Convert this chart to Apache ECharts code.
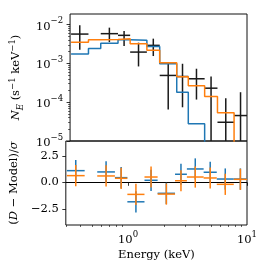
<!DOCTYPE html>
<html>
<head>
<meta charset="utf-8">
<script src="https://cdn.jsdelivr.net/npm/echarts@6/dist/echarts.min.js"></script>
<style>
html,body{margin:0;padding:0;background:#fff;}
#c{width:265px;height:273px;}
</style>
</head>
<body>
<div id="c"></div>
<script>
// ---- data ----
// model bin edges (keV)
const binEdges = [0.306, 0.432, 0.551, 0.776, 0.987, 1.375, 1.773, 2.484, 3.124, 4.32, 5.57, 7.74, 10.0];
// model 1 (blue) and model 2 (orange), counts s^-1 keV^-1 per bin (values below 1e-5 are off-axis)
const modelBlue   = [1.76e-3, 2.44e-3, 3.29e-3, 4.05e-3, 3.93e-3, 2.75e-3, 9.8e-4, 1.81e-4, 2.77e-5, 3e-6, 1e-6, 3e-7];
const modelOrange = [3.49e-3, 4.09e-3, 4.15e-3, 4.3e-3, 3.22e-3, 2.17e-3, 1.04e-3, 4.53e-4, 2.65e-4, 1.40e-4, 5.32e-5, 3e-6];
// data bins (keV)
const dataEdgeLo = [0.306, 0.551, 0.776, 0.987, 1.375, 1.773, 2.484, 3.124, 4.32, 5.57, 7.74];
const dataEdgeHi = [0.432, 0.776, 0.987, 1.375, 1.773, 2.484, 3.124, 4.32, 5.57, 7.74, 10.0];
const dataVal    = [5.71e-3, 5.85e-3, 5.3e-3, 1.96e-3, 2.92e-3, 4.9e-4, 4.6e-4, 4.02e-4, 2.3e-4, 3.04e-5, 4.53e-5];
const dataUpper  = [9.6e-3, 8.36e-3, 6.84e-3, 3.43e-3, 4.35e-3, 9.8e-4, 9.8e-4, 7.3e-4, 4.6e-4, 1.27e-4, 1.81e-4];
const dataLower  = [2.26e-3, 3.55e-3, 2.8e-3, 8.36e-4, 1.55e-3, 6.5e-5, 7.4e-5, 1.17e-4, 0, 0, 0];
// residuals (D - Model)/sigma, error ±1
const residBlue   = [1.10, 0.98, 0.44, -1.84, 0.19, -1.04, 0.76, 1.26, 0.95, 0.31, 0.31];
const residOrange = [0.63, 0.60, 0.38, -1.14, 0.50, -1.11, 0.15, 0.50, 0.41, -0.19, 0.28];
// ticks
const xMajorTicks = [1, 10];
const xMinorTicks = [0.3, 0.4, 0.5, 0.6, 0.7, 0.8, 0.9, 2, 3, 4, 5, 6, 7, 8, 9];
const yTopMajor = [1e-5, 1e-4, 1e-3, 1e-2];
const yTopMinor = [2e-5,3e-5,4e-5,5e-5,6e-5,7e-5,8e-5,9e-5,2e-4,3e-4,4e-4,5e-4,6e-4,7e-4,8e-4,9e-4,2e-3,3e-3,4e-3,5e-3,6e-3,7e-3,8e-3,9e-3];
const yResTicks = [-2.5, 0, 2.5];

// ---- chart ----
const FONT = 'DejaVu Serif';
const FS = 11.5, FSS = 8.5;
const BLUE = '#1f77b4', ORANGE = '#ff7f0e', BLACK = '#1a1a1a';
const chart = echarts.init(document.getElementById('c'), null, {renderer: 'canvas'});

function powLabel(v) {
  const e = Math.round(Math.log10(v));
  return '{b|10}{s|' + (e < 0 ? '\u2212' : '') + Math.abs(e) + '}';
}
const powRich = {
  b: {fontFamily: FONT, fontSize: FS, lineHeight: 16, color: '#000', verticalAlign: 'bottom'},
  s: {fontFamily: FONT, fontSize: FSS, lineHeight: 16, color: '#000', verticalAlign: 'top'}
};

function stepData(vals) {
  return binEdges.map((e, i) => [e, vals[Math.min(i, vals.length - 1)]]);
}

function crossRender(color, logY) {
  return function (params, api) {
    const xl = api.value(0), xh = api.value(1), y = api.value(2), lo = api.value(3), hi = api.value(4);
    const cs = params.coordSys;
    const xc = Math.sqrt(xl * xh);
    const a = api.coord([xl, y]), b = api.coord([xh, y]);
    const t = api.coord([xc, hi]);
    const bottomEdge = cs.y + cs.height;
    let by = (!logY || lo > 0) ? api.coord([xc, lo])[1] : bottomEdge;
    by = Math.min(by, bottomEdge);
    const ty = Math.max(t[1], cs.y);
    const st = {stroke: color, lineWidth: 1.5};
    return {
      type: 'group',
      children: [
        {type: 'line', shape: {x1: a[0], y1: a[1], x2: b[0], y2: b[1]}, style: st},
        {type: 'line', shape: {x1: t[0], y1: ty, x2: t[0], y2: by}, style: st}
      ]
    };
  };
}

const topData = dataVal.map((v, i) => [dataEdgeLo[i], dataEdgeHi[i], v, dataLower[i], dataUpper[i]]);
const resB = residBlue.map((v, i) => [dataEdgeLo[i], dataEdgeHi[i], v, v - 1, v + 1]);
const resO = residOrange.map((v, i) => [dataEdgeLo[i], dataEdgeHi[i], v, v - 1, v + 1]);

const option = {
  animation: false,
  backgroundColor: '#fff',
  grid: [
    {left: 64, top: 14, width: 183, height: 127, show: true, borderColor: '#111', borderWidth: 1, backgroundColor: 'transparent'},
    {left: 64, top: 141, width: 183, height: 84, show: true, borderColor: '#111', borderWidth: 1, backgroundColor: 'transparent'}
  ],
  xAxis: [
    {gridIndex: 0, type: 'log', logBase: 10, min: 0.3, max: 10, position: 'bottom',
     axisLine: {show: false}, axisTick: {show: false}, axisLabel: {show: false}, splitLine: {show: false}},
    {gridIndex: 1, type: 'log', logBase: 10, min: 0.3, max: 10, position: 'bottom',
     axisLine: {show: false}, splitLine: {show: false},
     axisTick: {show: true, length: 3.5, lineStyle: {color: '#000', width: 0.8}, customValues: xMajorTicks},
     axisLabel: {show: true, customValues: xMajorTicks, formatter: powLabel, rich: powRich, margin: 5},
     name: 'Energy (keV)', nameLocation: 'middle', nameGap: 24,
     nameTextStyle: {fontFamily: FONT, fontSize: FS, color: '#000'}},
    {gridIndex: 1, type: 'log', logBase: 10, min: 0.3, max: 10, position: 'bottom',
     axisLine: {show: false}, splitLine: {show: false}, axisLabel: {show: false},
     axisTick: {show: true, length: 2, lineStyle: {color: '#000', width: 0.6}, customValues: xMinorTicks}}
  ],
  yAxis: [
    {gridIndex: 0, type: 'log', logBase: 10, min: 1e-5, max: 0.0188, position: 'left',
     axisLine: {show: false}, splitLine: {show: false},
     axisTick: {show: true, length: 3.5, lineStyle: {color: '#000', width: 0.8}, customValues: yTopMajor},
     axisLabel: {show: true, customValues: yTopMajor, formatter: powLabel, rich: powRich, margin: 7},
     name: '{i|N}{sub|E} (s{sup|\u22121} keV{sup|\u22121})', nameLocation: 'middle', nameGap: 42, nameRotate: 90,
     nameTextStyle: {fontFamily: FONT, fontSize: FS, color: '#000', rich: {
       i: {fontFamily: FONT, fontSize: FS, fontStyle: 'italic', lineHeight: 17, verticalAlign: 'middle'},
       sub: {fontFamily: FONT, fontSize: FSS, fontStyle: 'italic', lineHeight: 17, verticalAlign: 'bottom'},
       sup: {fontFamily: FONT, fontSize: FSS, lineHeight: 17, verticalAlign: 'top'}
     }}},
    {gridIndex: 0, type: 'log', logBase: 10, min: 1e-5, max: 0.0188, position: 'left',
     axisLine: {show: false}, splitLine: {show: false}, axisLabel: {show: false},
     axisTick: {show: true, length: 2, lineStyle: {color: '#000', width: 0.6}, customValues: yTopMinor}},
    {gridIndex: 1, type: 'value', min: -4.03, max: 3.9, position: 'left',
     axisLine: {show: false}, splitLine: {show: false},
     axisTick: {show: true, length: 3.5, lineStyle: {color: '#000', width: 0.8}, customValues: yResTicks},
     axisLabel: {show: true, customValues: yResTicks, margin: 7, fontFamily: FONT, fontSize: FS, color: '#000',
       formatter: v => (v < 0 ? '\u2212' : '') + Math.abs(v).toFixed(1)},
     name: '({i|D} \u2212 Model)/{i|\u03c3}', nameLocation: 'middle', nameGap: 42, nameRotate: 90,
     nameTextStyle: {fontFamily: FONT, fontSize: FS, color: '#000', rich: {
       i: {fontFamily: FONT, fontSize: FS, fontStyle: 'italic'}
     }}}
  ],
  series: [
    {type: 'custom', xAxisIndex: 0, yAxisIndex: 0, renderItem: crossRender(BLACK, true), data: topData,
     encode: {x: 0, y: 2}, z: 2, clip: true},
    {type: 'line', xAxisIndex: 0, yAxisIndex: 0, step: 'end', data: stepData(modelBlue), showSymbol: false,
     lineStyle: {color: BLUE, width: 1.5}, itemStyle: {color: BLUE}, z: 3, clip: true},
    {type: 'line', xAxisIndex: 0, yAxisIndex: 0, step: 'end', data: stepData(modelOrange), showSymbol: false,
     lineStyle: {color: ORANGE, width: 1.5}, itemStyle: {color: ORANGE}, z: 4, clip: true},
    {type: 'custom', xAxisIndex: 1, yAxisIndex: 2, renderItem: crossRender(BLUE, false), data: resB,
     encode: {x: 0, y: 2}, z: 3, clip: true,
     markLine: {silent: true, symbol: 'none', label: {show: false}, lineStyle: {color: '#000', width: 1, type: 'solid'},
       data: [{yAxis: 0}], z: 2}},
    {type: 'custom', xAxisIndex: 1, yAxisIndex: 2, renderItem: crossRender(ORANGE, false), data: resO,
     encode: {x: 0, y: 2}, z: 4, clip: true}
  ]
};
chart.setOption(option);
</script>
</body>
</html>
